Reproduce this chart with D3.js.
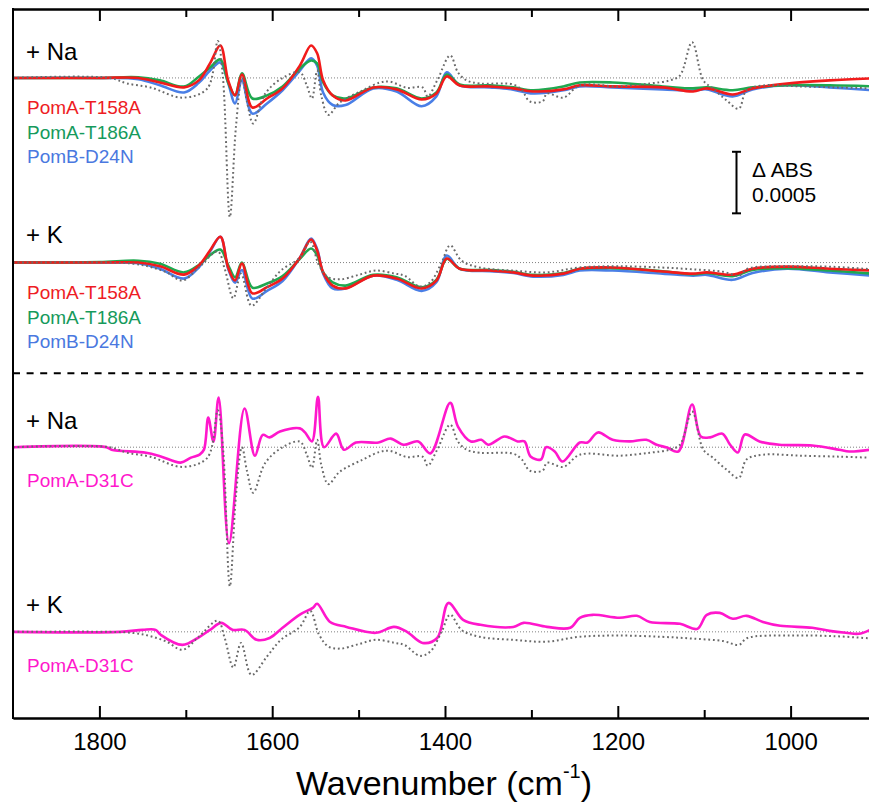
<!DOCTYPE html>
<html>
<head>
<meta charset="utf-8">
<script src="https://cdn.jsdelivr.net/npm/d3@7"></script>
<style>
  html, body { margin: 0; padding: 0; background: #fff; }
  svg { display: block; font-family: Arial, "Liberation Sans", sans-serif; }
</style>
</head>
<body>
<div id="chart"></div>
<script>
// values in units of 1e-4 ΔABS, x in cm-1
const wnMut = [1900, 1800, 1755, 1730, 1702, 1685, 1672, 1660, 1651, 1643, 1635, 1623, 1606, 1588, 1568, 1555, 1548, 1541, 1530, 1515, 1483, 1456, 1427, 1410, 1398, 1383, 1348, 1321, 1298, 1263, 1244, 1206, 1148, 1113, 1097, 1067, 1044, 1004, 955, 905];

const naRed   = [0, 0, 0, -0.37, -0.77, -0.2, 1.18, 2.64, -0.2, -1.42, 0.28, -2.4, -1.67, -0.85, 1.0, 2.64, 2.0, -0.2, -1.42, -1.83, -0.77, -0.93, -1.75, -1.26, 0.12, -0.61, -0.69, -0.85, -1.1, -0.93, -0.6, -0.69, -0.77, -1.1, -0.85, -1.34, -0.85, -0.45, -0.2, -0.04];
const naGreen = [0, 0, 0.05, -0.2, -0.7, 0.1, 0.85, 1.5, -0.37, -1.4, 0.37, -1.67, -1.42, -0.69, 0.77, 1.42, 1.18, -0.37, -1.42, -1.67, -0.77, -0.85, -1.67, -1.18, 0.28, -0.53, -0.6, -0.77, -1.0, -0.69, -0.37, -0.37, -0.69, -0.85, -0.77, -1.0, -0.77, -0.6, -0.6, -0.69];
const naBlue  = [0, 0, -0.1, -0.6, -1.18, -0.4, 0.6, 1.26, -0.4, -2.07, -0.2, -2.9, -2.07, -1.0, 0.6, 1.6, 1.0, -1.2, -2.2, -2.2, -0.85, -1.1, -2.3, -1.5, 0.45, -0.6, -0.77, -0.95, -1.26, -1.0, -0.69, -0.77, -0.93, -1.02, -0.93, -1.5, -0.93, -0.6, -0.77, -1.0];

const kRed    = [0, 0, 0, -0.3, -0.98, -0.24, 0.98, 2.1, -0.4, -1.46, -0.08, -2.5, -2.0, -1.3, 0.4, 1.87, 0.98, -0.8, -1.87, -2.1, -1.06, -1.3, -2.1, -1.46, 0.33, -0.5, -0.65, -0.8, -1.06, -0.9, -0.5, -0.4, -0.73, -0.9, -0.8, -0.98, -0.5, -0.33, -0.5, -0.65];
const kGreen  = [0, 0.05, 0.15, -0.1, -0.8, -0.2, 0.6, 1.06, -0.2, -1.2, 0.0, -2.03, -1.7, -1.1, 0.3, 1.14, 0.6, -0.8, -1.6, -1.87, -1.0, -1.2, -2.0, -1.4, 0.3, -0.5, -0.6, -0.75, -1.0, -0.85, -0.5, -0.45, -0.7, -0.95, -0.85, -1.1, -0.6, -0.45, -0.65, -0.9];
const kBlue   = [0, 0, -0.05, -0.5, -1.3, -0.4, 0.9, 2.1, -0.5, -1.63, -0.6, -2.93, -2.3, -1.5, 0.4, 1.95, 1.1, -0.9, -2.1, -2.1, -1.06, -1.4, -2.3, -1.6, 0.57, -0.5, -0.7, -0.85, -1.14, -1.0, -0.65, -0.65, -0.9, -1.06, -1.0, -1.4, -0.85, -0.5, -0.8, -1.06];

// wild-type reference spectra (grey dotted)
const wnRefNa = [1900, 1788, 1768, 1741, 1704, 1675, 1663, 1657, 1649, 1642, 1635, 1629, 1622, 1608, 1588, 1568, 1560, 1554, 1548, 1543, 1535, 1522, 1495, 1475, 1464, 1444, 1426, 1420, 1409, 1394, 1385, 1375, 1360, 1321, 1311, 1302, 1287, 1282, 1263, 1244, 1198, 1163, 1140, 1128, 1114, 1101, 1090, 1074, 1060, 1051, 1032, 989, 943, 908];
const refNa   = [0, 0, -0.45, -0.77, -1.6, -0.85, 3.0, 0, -11.3, -4, 0, -2, -3.7, -1.27, 0, 0.45, -0.6, -1.67, 0.6, -1.5, -3.0, -2.0, -1.0, -0.37, -0.3, -0.8, -0.77, -1.5, -0.2, 1.83, 0.45, -0.2, -0.45, -0.53, -1.0, -1.9, -1.9, -1.27, -1.6, -0.61, -0.69, -0.45, -0.2, 0.2, 2.9, -0.2, -0.85, -1.83, -2.5, -1.0, -0.61, -0.69, -0.77, -0.85];

const wnRefK = [1900, 1788, 1760, 1741, 1722, 1704, 1685, 1663, 1655, 1645, 1636, 1624, 1606, 1590, 1568, 1556, 1546, 1535, 1521, 1500, 1480, 1458, 1447, 1429, 1417, 1404, 1394, 1381, 1360, 1321, 1283, 1244, 1200, 1150, 1113, 1078, 1060, 1050, 1000, 950, 905];
const refK   = [0, 0, -0.1, -0.35, -0.8, -1.46, -0.4, 0.9, -0.5, -2.9, -0.9, -3.5, -2.0, -0.65, 0.4, 1.7, -0.2, -1.2, -1.36, -1.0, -0.65, -0.9, -1.06, -1.95, -1.6, 0.0, 1.4, 0.16, -0.4, -0.65, -0.8, -0.4, -0.3, -0.4, -0.55, -0.75, -1.06, -0.5, -0.3, -0.35, -0.55];

// PomA-D31C
const wnD31Na = [1900, 1792, 1786, 1746, 1729, 1706, 1694, 1684, 1679, 1674, 1668, 1662, 1650, 1632, 1620, 1611, 1603, 1591, 1568, 1562, 1554, 1547, 1540, 1526, 1517, 1503, 1477, 1463, 1448, 1431, 1417, 1394, 1385, 1370, 1358, 1350, 1331, 1316, 1308, 1301, 1289, 1283, 1273, 1264, 1244, 1235, 1223, 1206, 1186, 1167, 1155, 1143, 1130, 1114, 1104, 1093, 1079, 1070, 1061, 1053, 1036, 1013, 975, 944, 932, 908];
const d31Na   = [0, 0, -0.2, -0.45, -0.75, -1.25, -0.85, -0.6, -0.2, 2.4, 0.45, 4.04, -7.8, 3.14, -0.7, 1.0, 0.8, 1.28, 1.53, 1.2, 0.47, 4.1, 0, 1.1, -0.2, 0.38, 0.38, 0.7, 0.2, 0.47, -0.5, 3.6, 1.68, 0.47, 0.6, 0.2, 0.87, 0.47, 0.47, -0.75, -1.0, 0, -0.35, -1.16, 0.38, 0.38, 1.2, 0.6, 0.47, 0.6, 0.2, -0.03, -0.35, 3.47, 0.87, 0.8, 1.1, 0.2, -0.43, 1.03, 0.47, 0.2, 0.14, -0.2, -0.35, -0.2];

const wnD31K = [1900, 1776, 1750, 1735, 1729, 1704, 1684, 1672, 1659, 1646, 1632, 1618, 1603, 1588, 1568, 1553, 1548, 1533, 1514, 1480, 1459, 1444, 1426, 1409, 1396, 1379, 1359, 1321, 1309, 1282, 1255, 1244, 1229, 1198, 1178, 1163, 1128, 1108, 1097, 1082, 1067, 1051, 1032, 1012, 975, 955, 936, 921, 908];
const d31K   = [0, 0, 0.16, 0.16, -0.24, -1.06, -0.4, 0.16, 0.73, 0.16, 0.16, -0.65, -0.5, 0.33, 1.4, 1.95, 2.28, 0.8, 0.4, -0.08, 0.4, 0, -0.9, -0.5, 2.35, 0.97, 0.57, 0.4, 0.73, 0.4, 0.33, 1.14, 1.38, 1.14, 1.3, 0.8, 0.65, 0.24, 1.38, 1.54, 1.06, 1.3, 0.8, 0.49, 0.33, 0.08, -0.08, -0.16, 0.16];

const xTicksMajor = [1800, 1600, 1400, 1200, 1000];
const xTicksMinor = [1700, 1500, 1300, 1100];
const panelOffsets = [45, 30, 15, 0];
const panelIons = ['+ Na', '+ K', '+ Na', '+ K'];
const mutNames = ['PomA-T158A', 'PomA-T186A', 'PomB-D24N'];
const d31Name = 'PomA-D31C';

const width = 869, height = 805;
const colors = {
  red: '#f21b1b', green: '#1fa84f', blue: '#4a7fe6', magenta: '#ff17cc',
  redText: '#ee1c24', greenText: '#169a5c', blueText: '#4a78e0'
};

const svg = d3.select('#chart').append('svg')
  .attr('width', width)
  .attr('height', height)
  .attr('viewBox', `0 0 ${width} ${height}`);

const x_sc = d3.scaleLinear().domain([1900, 900]).range([13, 877]);
const y_sc = d3.scaleLinear().domain([-7, 50.6]).range([718, 9]);

svg.append('defs').append('clipPath').attr('id', 'plotclip')
  .append('rect')
  .attr('x', x_sc(1900)).attr('y', y_sc(50.6))
  .attr('width', x_sc(900) - x_sc(1900)).attr('height', y_sc(-7) - y_sc(50.6));

const plot = svg.append('g').attr('clip-path', 'url(#plotclip)');

const zip = (xs, ys) => xs.map((w, i) => [w, ys[i]]);

function lineFor(offset) {
  return d3.line()
    .x(d => x_sc(d[0]))
    .y(d => y_sc(d[1] + offset))
    .curve(d3.curveCatmullRom.alpha(0.5));
}

// zero baselines
panelOffsets.forEach(off => {
  plot.append('line')
    .attr('x1', x_sc(1900)).attr('x2', x_sc(900))
    .attr('y1', y_sc(off)).attr('y2', y_sc(off))
    .attr('stroke', '#808080')
    .attr('stroke-width', 1)
    .attr('stroke-dasharray', '1,2');
});

const panels = [
  { ref: zip(wnRefNa, refNa), series: [
    { d: zip(wnMut, naBlue), c: colors.blue },
    { d: zip(wnMut, naGreen), c: colors.green },
    { d: zip(wnMut, naRed), c: colors.red }
  ] },
  { ref: zip(wnRefK, refK), series: [
    { d: zip(wnMut, kBlue), c: colors.blue },
    { d: zip(wnMut, kGreen), c: colors.green },
    { d: zip(wnMut, kRed), c: colors.red }
  ] },
  { ref: zip(wnRefNa, refNa), series: [{ d: zip(wnD31Na, d31Na), c: colors.magenta }] },
  { ref: zip(wnRefK, refK), series: [{ d: zip(wnD31K, d31K), c: colors.magenta }] }
];

panels.forEach((p, i) => {
  const line = lineFor(panelOffsets[i]);
  p.series.forEach(s => {
    plot.append('path')
      .attr('d', line(s.d))
      .attr('fill', 'none')
      .attr('stroke', s.c)
      .attr('stroke-width', 2.6)
      .attr('stroke-linejoin', 'round');
  });
  plot.append('path')
    .attr('d', line(p.ref))
    .attr('fill', 'none')
    .attr('stroke', '#6a6a6a')
    .attr('stroke-width', 2)
    .attr('stroke-dasharray', '1.8,2.8');
});

// dashed separator between the two groups
svg.append('line')
  .attr('x1', x_sc(1900)).attr('x2', x_sc(900))
  .attr('y1', y_sc(21)).attr('y2', y_sc(21))
  .attr('stroke', '#000')
  .attr('stroke-width', 2)
  .attr('stroke-dasharray', '7,6.6');

// frame + axes
const ax_b = svg.append('g')
  .attr('transform', `translate(0,${y_sc(-7)})`)
  .call(d3.axisBottom(x_sc).tickValues(xTicksMajor).tickSizeInner(-12).tickSizeOuter(0).tickPadding(15).tickFormat(d3.format('d')));
svg.append('g')
  .attr('transform', `translate(0,${y_sc(-7)})`)
  .call(d3.axisBottom(x_sc).tickValues(xTicksMinor).tickSizeInner(-8).tickSizeOuter(0).tickFormat(''));
svg.append('g')
  .attr('transform', `translate(0,${y_sc(50.6)})`)
  .call(d3.axisTop(x_sc).tickValues(xTicksMajor).tickSizeInner(-12).tickSizeOuter(0).tickFormat(''));
svg.append('g')
  .attr('transform', `translate(0,${y_sc(50.6)})`)
  .call(d3.axisTop(x_sc).tickValues(xTicksMinor).tickSizeInner(-8).tickSizeOuter(0).tickFormat(''));

svg.selectAll('.domain').attr('stroke', '#000').attr('stroke-width', 2);
svg.selectAll('.tick line').attr('stroke', '#000').attr('stroke-width', 2);
ax_b.selectAll('.tick text')
  .attr('font-size', 24)
  .attr('font-family', 'Arial, "Liberation Sans", sans-serif')
  .attr('fill', '#000');

svg.append('line')
  .attr('x1', x_sc(1900)).attr('x2', x_sc(1900))
  .attr('y1', y_sc(50.6) - 1).attr('y2', y_sc(-7) + 1)
  .attr('stroke', '#000').attr('stroke-width', 2);

// axis title
const title = svg.append('text')
  .attr('x', 444)
  .attr('y', 795)
  .attr('text-anchor', 'middle')
  .attr('font-size', 34)
  .attr('fill', '#000');
title.append('tspan').text('Wavenumber (cm');
title.append('tspan').attr('font-size', 20).attr('dy', -17).text('-1');
title.append('tspan').attr('dy', 17).text(')');

// panel labels
const ionY = [60, 243, 429, 613];
const legY = [[114, 138.5, 163], [299, 323.5, 348], [487], [672]];
ionY.forEach((yy, i) => {
  svg.append('text')
    .attr('x', 26).attr('y', yy)
    .attr('font-size', 24).attr('fill', '#000')
    .text(panelIons[i]);
});
const mutCols = [colors.redText, colors.greenText, colors.blueText];
[0, 1].forEach(i => {
  mutNames.forEach((n, j) => {
    svg.append('text')
      .attr('x', 27).attr('y', legY[i][j])
      .attr('font-size', 19).attr('fill', mutCols[j])
      .text(n);
  });
});
[2, 3].forEach(i => {
  svg.append('text')
    .attr('x', 27).attr('y', legY[i][0])
    .attr('font-size', 19).attr('fill', colors.magenta)
    .text(d31Name);
});

// scale bar: 0.0005 ΔABS = 5 units
const sb_x = 736.5;
const sb = svg.append('g').attr('stroke', '#000').attr('stroke-width', 2);
sb.append('line').attr('x1', sb_x).attr('x2', sb_x).attr('y1', y_sc(39)).attr('y2', y_sc(34));
sb.append('line').attr('x1', sb_x - 4.5).attr('x2', sb_x + 4.5).attr('y1', y_sc(39)).attr('y2', y_sc(39));
sb.append('line').attr('x1', sb_x - 4.5).attr('x2', sb_x + 4.5).attr('y1', y_sc(34)).attr('y2', y_sc(34));
svg.append('text').attr('x', 752).attr('y', 177).attr('font-size', 21).attr('fill', '#000').text('\u0394 ABS');
svg.append('text').attr('x', 752).attr('y', 202).attr('font-size', 21).attr('fill', '#000').text('0.0005');
</script>
</body>
</html>
